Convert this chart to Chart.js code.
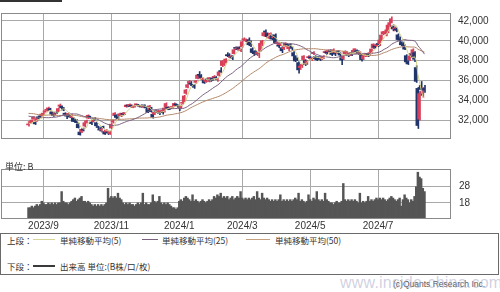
<!DOCTYPE html>
<html>
<head>
<meta charset="utf-8">
<script src="https://cdn.jsdelivr.net/npm/chart.js@4.4.1/dist/chart.umd.min.js"></script>
<style>
  body { margin: 0; background: #fff; }
  #wrap { position: relative; width: 500px; height: 292px; overflow: hidden; background: #fff;
          font-family: "Noto Sans CJK JP", "Liberation Sans", sans-serif; color: #333; }
  #wrap canvas { position: absolute; left: 0; }
  .t { position: absolute; font-size: 8.5px; line-height: 10px; white-space: nowrap; }
  .ln { position: absolute; height: 1px; }
</style>
</head>
<body>
<div id="wrap">
  <div style="position:absolute;left:0;top:0;width:62px;height:2px;background:#333"></div>
  <canvas id="price" width="500" height="152" style="top:0"></canvas>
  <canvas id="vol" width="500" height="78" style="top:155px"></canvas>
  <div class="t" style="left:5px;top:162px;font-size:9px">単位: B</div>

  <div style="position:absolute;left:0;top:233px;width:497px;height:40px;border:1px solid #6a6a6a"></div>
  <div class="t" style="left:7px;top:235px">上段：</div>
  <div class="ln" style="left:33px;top:239px;width:22px;background:#d6d596"></div>
  <div class="t" style="left:60px;top:235px">単純移動平均(5)</div>
  <div class="ln" style="left:142px;top:239px;width:16px;background:#7b6080"></div>
  <div class="t" style="left:162px;top:235px">単純移動平均(25)</div>
  <div class="ln" style="left:246px;top:239px;width:24px;background:#c4a07c"></div>
  <div class="t" style="left:275px;top:235px">単純移動平均(50)</div>
  <div class="t" style="left:7px;top:261px">下段：</div>
  <div class="ln" style="left:33px;top:265px;width:22px;height:2px;background:#3a3a3a"></div>
  <div class="t" style="left:60px;top:261px">出来高 単位:(B株/口/枚)</div>

  <div class="t" style="left:393px;top:279px;font-size:8.5px;color:#555;font-family:'Liberation Sans',sans-serif">(c)Quants Research Inc.</div>
  <div class="t" style="left:340px;top:274px;font-size:16px;line-height:18px;color:rgba(170,170,200,0.55);font-family:'Liberation Sans',sans-serif;letter-spacing:0.2px">www.inside-china.com</div>
</div>

<script>
// x tick positions (trading-day index) and their labels
const tickIdx = [9, 50, 91, 129, 170, 211];
const tickLabels = ['2023/9', '2023/11', '2024/1', '2024/3', '2024/5', '2024/7'];
const priceTicks = [32000, 34000, 36000, 38000, 40000, 42000];
const volTicks = [18, 28];

// closes before the first visible day (needed for the moving averages)
const preCloses = [
  32265,32434,33018,33502,33485,33706,33370,33388,33575,33264,32781,32698,32538,33193,33234,33189,
  33753,33422,33338,32773,32388,32189,32203,31943,32419,32391,32493,32896,32490,32304,32700,32682,32668,32891,32759,33172,
  33476,32707,32159,32192,32254,32377,32204,32473,32059,32238,31766,31626,31450
];

const opens = [
  31520,31700,31800,32150,31800,31900,32250,32400,32450,
  32550,32850,33000,33050,33150,32800,32500,32600,32780,32900,33400,33400,33200,32700,32500,32550,32500,32300,32200,32000,
  31900,31600,30800,30800,31100,31400,31800,32200,32350,31800,31850,32150,31750,31300,31100,31000,31300,30850,30800,30800,30650,
  31200,31800,32450,32500,32300,32450,32450,32700,32650,33350,33500,33450,33500,33300,33350,33550,33550,33400,33500,33350,
  33500,33300,33100,33050,33250,32600,32600,32900,32800,32750,32800,32800,32900,33300,33300,33250,33250,33300,33450,33600,33500,
  33300,33250,33700,33900,34700,35300,35800,35700,35500,35500,35800,36200,36600,36500,36100,36000,35900,36100,35900,
  36100,36200,36300,36300,36100,36500,37000,37500,37600,37800,38600,38600,38300,38300,38700,39300,39200,39300,39000,
  39400,40100,40000,39900,40100,39800,39200,38900,38800,38700,38700,39000,39700,40500,40900,40700,40300,40500,40500,40300,
  40600,39700,39500,39600,39300,39200,39500,39600,39200,39600,39300,38800,38400,38200,37800,37300,37500,38100,38000,37700,38300,
  38300,38100,38700,38400,38300,38300,38300,38200,38300,38800,38800,38900,39000,38800,38800,38800,38800,38900,38700,38300,38200,
  38700,38800,38600,38600,38700,38900,39100,39000,38900,38700,38600,38200,38500,38600,38600,38700,38900,39300,39500,39500,
  39700,39700,40100,40700,40800,40700,40900,41600,41900,41500,41200,41200,40600,40200,39800,39700,39500,38500,37900,38100,38700,38500,
  38800,37300,35200,32100,35500,34700,35200
];

const highs = [
  31680,31900,32050,32350,31850,32200,32330,32470,32690,
  32780,32960,33130,33320,33200,32850,32650,32800,32850,33250,33630,33450,33280,32750,32600,32750,32550,32550,32250,32100,
  32050,31700,30900,31150,31200,31800,32000,32530,32400,31850,32100,32260,31800,31400,31250,31200,31400,30900,31050,30900,30900,
  31650,32000,32770,32550,32350,32700,32650,32750,32750,33550,33550,33650,33550,33450,33480,33650,33600,33500,33550,33500,
  33550,33350,33150,33500,33300,32700,32850,32950,33000,32850,33000,32900,33250,33750,33350,33300,33300,33350,33750,33650,33550,
  33450,33570,33990,34500,35100,35800,36000,35900,35600,35600,36000,36600,36900,36600,36300,36050,36100,36200,36300,
  36150,36400,36500,36400,36250,36900,37300,38000,37800,38200,38800,38700,38550,38500,39150,39400,39400,39400,39200,
  39990,40300,40200,40100,40300,40000,39300,39000,39000,38900,38900,39800,40050,40850,41100,40800,40500,40800,40600,40400,
  40700,39900,39600,39800,39400,39400,39800,39700,39500,39700,39400,38900,38500,38300,37900,37600,37600,38500,38100,38000,38500,
  38400,38300,38900,38500,38400,38400,38400,38400,38500,39000,38900,39100,39100,38900,39200,38900,39000,39000,38800,38400,38550,
  39000,38900,38700,38800,38800,39100,39200,39100,39000,38900,38650,38500,38700,38700,38700,38900,39200,39700,39600,39650,
  39800,40100,40600,40950,41100,40900,41600,41900,42426,41600,41400,41300,40700,40400,39900,39900,39600,38600,38000,38500,38800,39200,
  38900,37500,35300,34900,35900,35300,35500
];

const lows = [
  31400,31650,31750,32080,31560,31880,32120,32280,32400,
  32530,32800,32900,32950,32900,32560,32380,32550,32650,32850,33350,33150,32950,32500,32150,32500,32250,32200,31850,31750,
  31700,31200,30487,30750,30900,31300,31700,32150,32200,31550,31800,31950,31400,31100,30900,30800,31150,30550,30750,30550,30550,
  31150,31700,32400,32200,32050,32400,32350,32500,32550,33300,33350,33400,33300,33250,33300,33500,33400,33350,33300,33250,
  33350,33100,32750,33000,32800,32200,32550,32750,32750,32550,32750,32600,32800,33250,33050,33050,33150,33250,33400,33450,33400,
  32950,33200,33600,33850,34600,35250,35650,35500,35300,35200,35700,36150,36400,36200,35950,35700,35800,35950,35850,
  35900,36000,36200,36100,35900,36400,36800,37400,37500,37750,38400,38300,38250,38100,38650,39100,39050,39100,38900,
  39350,40000,39900,39700,39500,39400,38700,38500,38600,38500,38300,38950,39500,40450,40700,40300,40200,40350,40100,40100,
  39700,39600,39300,39500,38800,39100,39400,39500,39000,39400,39100,38400,37900,38000,36733,37100,37300,38000,37500,37600,38200,
  38100,38000,38600,38100,38000,38100,38000,38100,38200,38700,38600,38850,38800,38500,38700,38500,38700,38700,38400,37600,38100,
  38600,38600,38400,38500,38500,38800,38900,38800,38600,38300,37950,38100,38400,38400,38400,38600,38800,39200,39200,39400,
  39400,39500,40000,40600,40700,40500,40800,41400,41800,41000,41000,40900,40100,39800,39500,39400,39100,37800,37600,38000,38300,38200,
  37900,35800,31156,32000,34500,34300,34800
];

const closes = [
  31565,31856,32010,32288,31624,32169,32227,32333,32619,
  32710,32939,33036,33241,32991,32606,32467,32776,32706,33168,33533,33242,33023,32571,32402,32678,32315,32371,31872,31857,
  31759,31237,30526,31075,30994,31746,31936,32494,32315,31659,32040,32042,31430,31259,30999,31062,31269,30601,30991,30696,30858,
  31601,31950,32708,32272,32166,32646,32568,32585,32695,33519,33424,33585,33388,33354,33452,33625,33447,33408,33321,33487,
  33431,33231,32775,33445,32858,32307,32791,32843,32926,32686,32970,32758,33219,33675,33141,33170,33255,33306,33681,33540,33464,
  33288,33377,33763,34441,35049,35577,35901,35619,35477,35466,35963,36546,36517,36226,36236,35751,36026,36066,36287,
  36011,36158,36354,36160,36119,36863,36897,37963,37703,38157,38487,38470,38363,38262,39098,39233,39239,39208,39166,
  39910,40109,40097,40090,39598,39688,38820,38797,38695,38807,38708,39740,40003,40815,40888,40414,40398,40762,40168,40369,
  39803,39838,39451,39773,38992,39347,39773,39581,39442,39523,39232,38471,37962,38079,37068,37438,37552,38460,37628,37934,38405,
  38274,38236,38835,38202,38073,38229,38179,38356,38385,38920,38787,39069,38946,38617,39103,38646,38900,38855,38556,38054,38488,
  38923,38837,38490,38703,38683,39038,39134,38876,38720,38814,38102,38482,38570,38633,38596,38804,39173,39667,39341,39583,
  39631,40074,40580,40913,40912,40780,41580,41831,42224,41191,41275,41098,40126,40064,39599,39594,39155,37870,37667,38469,38526,39102,
  38126,35910,31458,34675,35090,34831,35025
];

const volumes = [
  15,15,16,15,16,17,16,17,19,
  18,17,17,18,17,18,17,18,17,18,18,25,19,18,18,17,18,19,20,21,
  19,20,21,22,19,19,18,19,18,17,16,17,16,17,16,17,16,17,18,27,21,
  22,21,22,21,24,21,20,18,17,18,17,18,17,17,16,17,18,17,18,24,
  17,18,17,17,18,23,19,18,19,22,18,17,18,17,18,17,16,15,15,14,15,
  19,20,19,21,22,21,20,19,23,19,20,19,18,19,20,19,18,19,20,
  19,20,22,21,23,22,24,21,22,21,22,20,21,22,20,21,22,21,25,
  21,20,21,20,21,20,21,22,20,25,21,20,24,21,20,21,20,19,20,19,
  20,19,20,23,19,20,19,20,19,20,19,20,21,20,24,19,20,19,18,19,23,
  20,19,21,20,25,20,19,20,19,24,20,19,18,18,17,18,19,18,18,19,30,
  20,19,20,19,20,19,20,19,18,24,18,19,18,19,22,19,20,19,20,21,
  20,21,20,21,20,19,20,21,22,21,20,19,20,21,16,20,23,21,20,18,20,19,
  22,28,37,34,33,27,25
];

const allCloses = preCloses.concat(closes);
const sma = n => closes.map((c, i) => {
  const end = preCloses.length + i + 1;
  const win = allCloses.slice(end - n, end);
  return { x: i, y: win.reduce((a, b) => a + b, 0) / n };
});

const upColor = '#d8405a';
const downColor = '#22356a';
const candleColors = closes.map((c, i) => c >= opens[i] ? upColor : downColor);
const gridColor = '#a9a9a9';

Chart.defaults.font.family = '"Liberation Sans", Arial, sans-serif';
Chart.defaults.font.size = 10;
Chart.defaults.color = '#333';

const frame = {
  id: 'frame',
  afterDraw(chart) {
    const a = chart.chartArea, g = chart.ctx;
    g.save();
    g.strokeStyle = '#8a8a8a';
    g.lineWidth = 1;
    g.strokeRect(Math.round(a.left) + 0.5, Math.round(a.top) + 0.5,
                 Math.round(a.width) - 1, Math.round(a.height) - 1);
    g.restore();
  }
};

const xScale = (showLabels) => ({
  type: 'linear',
  min: -16.6,
  max: 255,
  offset: false,
  grid: { color: gridColor, drawTicks: false, offset: false },
  border: { display: false },
  afterBuildTicks: ax => { ax.ticks = tickIdx.map(v => ({ value: v })); },
  ticks: {
    display: showLabels,
    autoSkip: false,
    maxRotation: 0,
    padding: 1,
    callback: v => tickLabels[tickIdx.indexOf(v)]
  },
  afterFit: ax => { ax.height = showLabels ? 11 : 0; }
});

new Chart(document.getElementById('price'), {
  type: 'bar',
  data: {
    datasets: [
      { type: 'line', data: sma(5), borderColor: '#d4d28a', borderWidth: 1, pointRadius: 0, order: 0 },
      { type: 'line', data: sma(25), borderColor: '#7b6080', borderWidth: 1, pointRadius: 0, order: 0 },
      { type: 'line', data: sma(50), borderColor: '#b48868', borderWidth: 1, pointRadius: 0, order: 0 },
      { data: closes.map((c, i) => ({ x: i, y: [lows[i], highs[i]] })),
        backgroundColor: candleColors, barThickness: 1, order: 2 },
      { data: closes.map((c, i) => ({ x: i, y: [opens[i], c] })),
        backgroundColor: candleColors, barThickness: 2, minBarLength: 1, order: 1 }
    ]
  },
  options: {
    responsive: false,
    animation: false,
    devicePixelRatio: 1,
    layout: { padding: { left: 1, top: 2, right: 0, bottom: 1 } },
    plugins: { legend: { display: false }, tooltip: { enabled: false } },
    scales: {
      x: xScale(false),
      y: {
        position: 'right',
        min: 30100,
        max: 42800,
        beginAtZero: false,
        grid: { color: gridColor, drawTicks: false },
        border: { display: false },
        afterBuildTicks: ax => { ax.ticks = priceTicks.map(v => ({ value: v })); },
        ticks: { padding: 7, color: '#333', callback: v => v.toLocaleString('en-US') },
        afterFit: ax => { ax.width = 49; }
      }
    }
  },
  plugins: [frame]
});

new Chart(document.getElementById('vol'), {
  type: 'bar',
  data: {
    datasets: [
      { data: volumes.map((v, i) => ({ x: i, y: v })),
        backgroundColor: '#555555', barThickness: 1.8 }
    ]
  },
  options: {
    responsive: false,
    animation: false,
    devicePixelRatio: 1,
    layout: { padding: { left: 1, top: 5, right: 0, bottom: 0 } },
    plugins: { legend: { display: false }, tooltip: { enabled: false } },
    scales: {
      x: xScale(true),
      y: {
        position: 'right',
        min: 8,
        max: 39,
        beginAtZero: false,
        grid: { color: gridColor, drawTicks: false },
        border: { display: false },
        afterBuildTicks: ax => { ax.ticks = volTicks.map(v => ({ value: v })); },
        ticks: { padding: 8, color: '#333' },
        afterFit: ax => { ax.width = 49; }
      }
    }
  },
  plugins: [frame]
});
</script>
</body>
</html>
